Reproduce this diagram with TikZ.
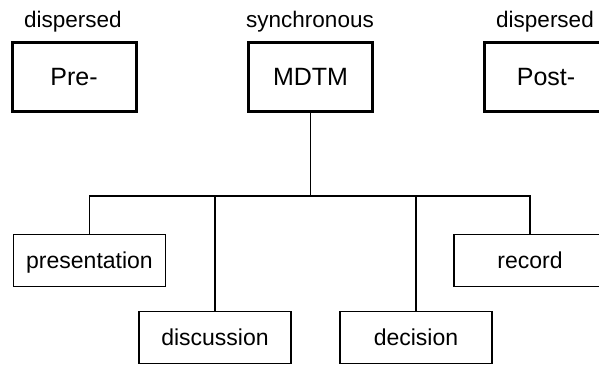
\documentclass[tikz,border=0pt]{standalone}
\usepackage{fontspec}
\setmainfont{Liberation Sans}
\begin{document}
\begin{tikzpicture}[x=1pt,y=-1pt,
  phase/.style={draw, line width=3pt, rectangle, minimum width=124pt, minimum height=69pt,
    inner sep=0pt, text height=18pt, text depth=1pt, font=\fontsize{25}{30}\selectfont},
  task/.style={draw, line width=1.4pt, rectangle, minimum width=152pt, minimum height=52pt,
    inner sep=0pt, text height=16.5pt, text depth=0pt, font=\fontsize{23}{27}\selectfont},
  mode/.style={inner sep=0pt, text height=16.2pt, text depth=0pt, font=\fontsize{22.5}{27}\selectfont},
  link/.style={line width=1.4pt}]
\useasboundingbox (0,0) rectangle (599,365);
\clip (0,0) rectangle (599,365);

% meeting phases
\node[phase] (pre)  at (74,76.5)  {Pre-};
\node[phase] (mdtm) at (310.5,77) {MDTM};
\node[phase] (post) at (546,76.5) {Post-};

\node[mode] (m1) at (73,19.5)  {dispersed};
\node[mode] (m2) at (310,19.5) {synchronous};
\node[mode] (m3) at (545,19.5) {dispersed};

% meeting activities
\node[task] (pres) at (89.5,260.5) {presentation};
\node[task] (disc) at (215,337.5)  {discussion};
\node[task] (dec)  at (416,337.5)  {decision};
\node[task] (rec)  at (530,260.5)  {record};

% tree connectors
\coordinate (hub) at (310.5,196);
\draw[link] (mdtm.south) -- (hub);
\draw[link] (pres.north) |- (hub) -| (rec.north);
\draw[link] (disc.north) -- (disc.north |- hub);
\draw[link] (dec.north) -- (dec.north |- hub);
\end{tikzpicture}
\end{document}
